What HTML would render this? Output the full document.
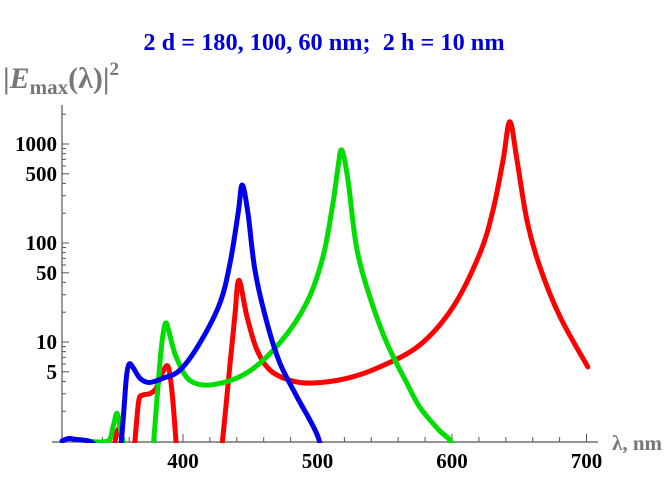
<!DOCTYPE html>
<html><head><meta charset="utf-8"><style>
html,body{margin:0;padding:0;background:#fff;}
svg{display:block;font-family:"Liberation Serif",serif;}
</style></head><body>
<svg id="chart" width="666" height="499" viewBox="0 0 666 499" xmlns="http://www.w3.org/2000/svg">
<text x="324" y="50" text-anchor="middle" font-size="24.3" font-weight="bold" fill="#0000dd" xml:space="preserve">2 d = 180, 100, 60 nm;&#160; 2 h = 10 nm</text>
<text x="3" y="88" font-size="30" font-weight="bold" fill="#777">|<tspan font-style="italic">E</tspan><tspan font-size="21" dy="6">max</tspan><tspan dy="-6">(λ)|</tspan><tspan font-size="19" dy="-13">2</tspan></text>
<text x="612" y="450" font-size="21" font-weight="bold" fill="#777">λ, nm</text>
<g id="axes"></g>
<defs><clipPath id="plotclip"><rect x="52" y="60" width="560" height="383"/></clipPath></defs>
<g id="series" clip-path="url(#plotclip)"></g>
</svg>
<script>
const xTicks=[400,500,600,700];
const yTicks=[5,10,50,100,500,1000];
const blueLambda=[310,315,320,330,335,null,354,356,358,360,363,368,375,385,397.8,412.6,427.5,435,441,444,448.3,453.5,462.5,472.1,484.7,500.4,505];
const blueValue=[1.0,1.06,1.04,1.0,0.9,null,0.9,2,4.5,6,5.5,4.3,3.9,4.3,5.2,9.8,24.8,63,200,385,200,53,15.5,6.1,2.8,1.1,0.5];
const greenLambda=[327,344,348,351,354,356,null,378,381,384,387,390,395,405,422,447.6,472,492,504,511.5,515,518,522.7,529,538.9,551.5,566.4,576,590,600,605];
const greenValue=[1,1,1.4,1.9,1.2,0.9,null,0.9,3,9,15.5,12,7,4.1,3.7,4.9,9.8,25,72,254,550,870,430,91,28.6,9.8,3.85,2.2,1.3,0.95,0.5];
const redLambda=[349,351,353,355,null,364,367,370,375,380,385,389,392,395,null,427,429.7,435,438.7,441.6,447.6,455,464.7,479.5,496.6,521.9,546.4,576,600.8,620.8,630.5,638,643,648.3,655.7,665.4,680.3,701];
const redValue=[0.9,1.25,1.3,0.95,null,0.9,2.5,2.9,3,3.4,5,5.6,3,0.9,null,0.5,1.1,6.1,19.6,42,18,8.3,5.2,4.1,3.85,4.3,5.6,9.3,22.6,79,215,690,1680,690,170,57,18,5.6];
const NS="http://www.w3.org/2000/svg";
function xs(l){return 183+(l-400)*1.345;}
function ys(v){return 441-Math.log10(v)*99;}
const axes=document.getElementById('axes');
function mk(tag,attrs,parent){const e=document.createElementNS(NS,tag);for(const k in attrs)e.setAttribute(k,attrs[k]);parent.appendChild(e);return e;}
let l=mk('line',{x1:52,y1:442,x2:598,y2:442,stroke:'#555','stroke-width':1.2},axes);


l=mk('line',{x1:62,y1:105,x2:62,y2:442,stroke:'#555','stroke-width':1.2},axes);


for(let v=320;v<=700;v+=20){const major=v%100===0;const t=mk('line',{x1:xs(v),y1:442,x2:xs(v),y2:442-(major?8:5),stroke:'#555','stroke-width':1},axes);

}
for(const v of xTicks){const t=mk('text',{x:xs(v),y:468,'text-anchor':'middle','font-size':21,'font-weight':'bold',fill:'#000'},axes);t.textContent=v;

}
for(let d=1;d<=1000;d*=10){for(let m=1;m<=9;m++){const v=d*m;if(v<1.5||v>2600)continue;const major=(m===1||m===5);const t=mk('line',{x1:62,y1:ys(v),x2:62+(major?7:4),y2:ys(v),stroke:'#555','stroke-width':1},axes);

}}
for(const v of yTicks){const t=mk('text',{x:57,y:ys(v)+7,'text-anchor':'end','font-size':21,'font-weight':'bold',fill:'#000'},axes);t.textContent=v;

}
const g=document.getElementById('series');
function segPath(pts){
  if(pts.length<2)return '';
  let d='M'+pts[0][0].toFixed(1)+' '+pts[0][1].toFixed(1);
  for(let i=0;i<pts.length-1;i++){
    const p0=pts[Math.max(i-1,0)],p1=pts[i],p2=pts[i+1],p3=pts[Math.min(i+2,pts.length-1)];
    const t=0.5/3;
    const c1=[p1[0]+(p2[0]-p0[0])*t,p1[1]+(p2[1]-p0[1])*t];
    const c2=[p2[0]-(p3[0]-p1[0])*t,p2[1]-(p3[1]-p1[1])*t];
    d+=' C'+c1[0].toFixed(1)+' '+c1[1].toFixed(1)+' '+c2[0].toFixed(1)+' '+c2[1].toFixed(1)+' '+p2[0].toFixed(1)+' '+p2[1].toFixed(1);
  }
  return d+' ';
}
function draw(L,V,color,name){let d='',seg=[];for(let i=0;i<=L.length;i++){if(i===L.length||L[i]===null){d+=segPath(seg);seg=[];continue;}seg.push([xs(L[i]),Math.min(ys(V[i]),470)]);}
const p=mk('path',{d:d,fill:'none',stroke:color,'stroke-width':5,'stroke-linejoin':'round','stroke-linecap':'round'},g);

}
draw(redLambda,redValue,'#ff0000','series-red-180nm');
draw(greenLambda,greenValue,'#00dd00','series-green-100nm');
draw(blueLambda,blueValue,'#0000ee','series-blue-60nm');
</script>
</body></html>
